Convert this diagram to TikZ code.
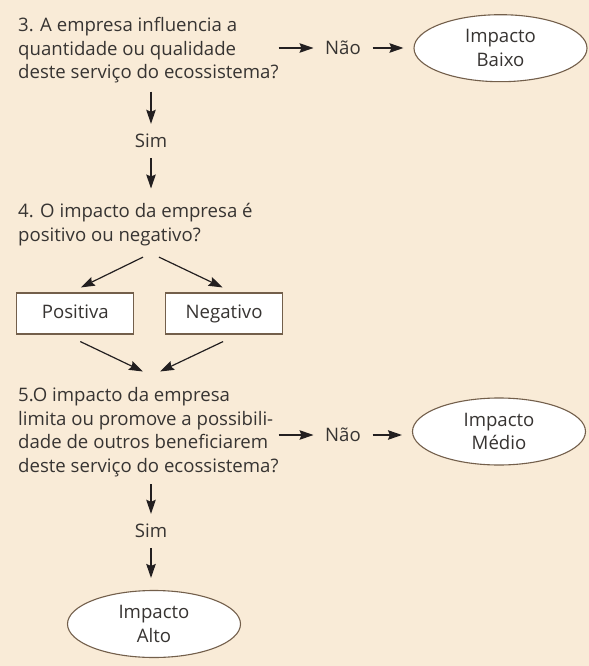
\documentclass[tikz,border=0pt]{standalone}
\usepackage{fontspec}
\setmainfont{Open Sans}
\usetikzlibrary{shapes.geometric, positioning, arrows.meta}
\definecolor{bgbeige}{RGB}{249,235,215}
\definecolor{txtgray}{RGB}{55,52,50}
\definecolor{arrowblk}{RGB}{35,31,32}
\definecolor{edgebrown}{RGB}{115,95,75}

\begin{document}
\begin{tikzpicture}[
  x=1bp, y=-1bp,
  font=\fontsize{18.6bp}{23.5bp}\selectfont,
  text=txtgray,
  question/.style={align=left, anchor=north west, inner sep=0pt},
  answer/.style={inner xsep=11.5bp, inner ysep=0pt, minimum height=34bp},
  outcome/.style={ellipse, draw=edgebrown, fill=white, line width=1.1bp, minimum width=173bp, minimum height=67bp, inner sep=0pt, align=center},
  choice/.style={draw=edgebrown, fill=white, line width=1.1bp, minimum width=117bp, minimum height=41bp, inner sep=0pt, text height=13.5bp, text depth=4bp},
  arrow/.style={-{Stealth[length=14bp, width=9.5bp, inset=2bp]}, line width=1.2bp, draw=arrowblk}
]

\fill[bgbeige] (0,0) rectangle (589,666);
\useasboundingbox (0,0) rectangle (589,666);

% ===== Question 3 =====
\node[question] (q3) at (18,17.5) {3. A empresa influencia a\\
quantidade ou qualidade\\
deste serviço do ecossistema?};

\node[answer] (nao1) at (343,48) {Não};
\node[outcome] (baixo) at (500.5,48.2) {Impacto\\Baixo};
\node[answer] (sim1) at (151,141) {Sim};

\draw[arrow] (q3.east |- nao1) -- (nao1);
\draw[arrow, shorten >=10bp] (nao1) -- (nao1 -| baixo.west);
\draw[arrow, shorten <=8bp] (q3.south -| sim1) -- (sim1);

% ===== Question 4 =====
\node[question] (q4) at (18,203.5) {4. O impacto da empresa é\\
positivo ou negativo?};

\draw[arrow, shorten >=15bp] (sim1) -- (sim1 |- q4.north);

\node[choice] (pos) at (75.3,313.5) {Positiva};
\node[choice, right=30.7bp of pos] (neg) {Negativo};

\draw[arrow] ([xshift=125bp,yshift=-11bp]q4.south west) -- ([xshift=5.5bp,yshift=5bp]pos.north);
\draw[arrow] ([xshift=141bp,yshift=-11bp]q4.south west) -- ([xshift=-1.5bp,yshift=5bp]neg.north);

% ===== Question 5 =====
\node[question] (q5) at (18,387.5) {5.O impacto da empresa\\
limita ou promove a possibili-\\
dade de outros beneficiarem\\
deste serviço do ecossistema?};

\draw[arrow] ([xshift=5bp,yshift=-7bp]pos.south) -- ([xshift=125bp,yshift=16bp]q5.north west);
\draw[arrow] ([xshift=-1bp,yshift=-7bp]neg.south) -- ([xshift=142bp,yshift=16bp]q5.north west);

\node[answer] (nao2) at (343,435) {Não};
\node[outcome] (medio) at (499,431.5) {Impacto\\Médio};
\node[answer] (sim2) at (151,531) {Sim};
\node[outcome] (alto) at (154,624) {Impacto\\Alto};

\draw[arrow] (q5.east |- nao2) -- (nao2);
\draw[arrow, shorten >=10bp] (nao2) -- (nao2 -| medio.west);
\draw[arrow, shorten <=7bp] (q5.south -| sim2) -- (sim2);
\draw[arrow, shorten >=12bp] (sim2) -- (sim2 |- alto.north);

\end{tikzpicture}
\end{document}
